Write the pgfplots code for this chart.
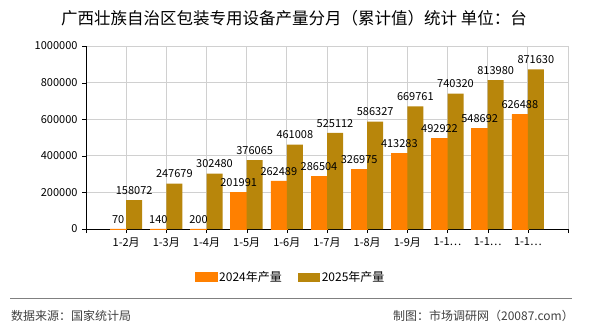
\documentclass[border=0pt]{standalone}
\usepackage{pgfplots}
\pgfplotsset{compat=1.18}
\usepackage{fontspec}
\setmainfont{Noto Sans CJK SC}
\definecolor{c24}{HTML}{FF8000}
\definecolor{c25}{HTML}{B8860B}
\definecolor{gridc}{HTML}{D0D0D0}
\definecolor{footc}{HTML}{404040}
\begin{document}
\begin{tikzpicture}[x=1bp,y=1bp]
\useasboundingbox (0,0) rectangle (590,330);
\node[font=\fontsize{16.5bp}{18bp}\selectfont] at (294,312) {广西壮族自治区包装专用设备产量分月（累计值）统计\ 单位：台};
\begin{axis}[
  at={(86bp,101bp)}, anchor=south west,
  scale only axis, width=482bp, height=183bp,
  xmin=-1, xmax=11, ymin=0, ymax=1000000,
  ybar=0pt, bar width=16bp,
  axis lines*=left,
  axis line style={black,-},
  tick align=outside,
  major tick length=4bp,
  tick style={black},
  xtick={-1,0,...,11},
  xticklabels={{},1-2月,1-3月,1-4月,1-5月,1-6月,1-7月,1-8月,1-9月,1-1…,1-1…,1-1…,{}},
  ytick={0,200000,400000,600000,800000,1000000},
  scaled y ticks=false,
  /pgf/number format/assume math mode=true,
  /pgf/number format/fixed,
  /pgf/number format/1000 sep={},
  grid=major,
  major grid style={gridc, line width=0.8bp},
  tick label style={font=\fontsize{11bp}{13bp}\selectfont},
  yticklabel style={xshift=-1bp},
  xticklabel style={yshift=-1bp},
  nodes near coords,
  nodes near coords style={font=\fontsize{11bp}{13bp}\selectfont, black, /pgf/number format/fixed, /pgf/number format/1000 sep={}, inner sep=2bp, yshift=3.5bp},
  legend style={at={(axis description cs:0.4243,-0.2623)}, anchor=center, draw=none, fill=none,
    legend columns=2, font=\fontsize{12bp}{14bp}\selectfont,
    /tikz/every even column/.append style={column sep=14bp}},
  legend image code/.code={\fill[#1] (0bp,-4.5bp) rectangle (22bp,4.5bp);},
]
\addplot[fill=c24, draw=c24, line width=0.6bp] coordinates {(0,70) (1,140) (2,200) (3,201991) (4,262489) (5,286504) (6,326975) (7,413283) (8,492922) (9,548692) (10,626488)};
\addplot[fill=c25, draw=none] coordinates {(0,158072) (1,247679) (2,302480) (3,376065) (4,461008) (5,525112) (6,586327) (7,669761) (8,740320) (9,813980) (10,871630)};
\legend{2024年产量,2025年产量}
\end{axis}
\draw[color=gray, line width=1bp] (10,32) -- (572,32);
\node[anchor=west, text=footc, font=\fontsize{12bp}{14bp}\selectfont, inner sep=0pt] at (11,14) {数据来源：国家统计局};
\node[anchor=east, text=footc, font=\fontsize{12bp}{14bp}\selectfont, inner sep=0pt] at (574,14) {制图：市场调研网（20087.com）};
\end{tikzpicture}
\end{document}
